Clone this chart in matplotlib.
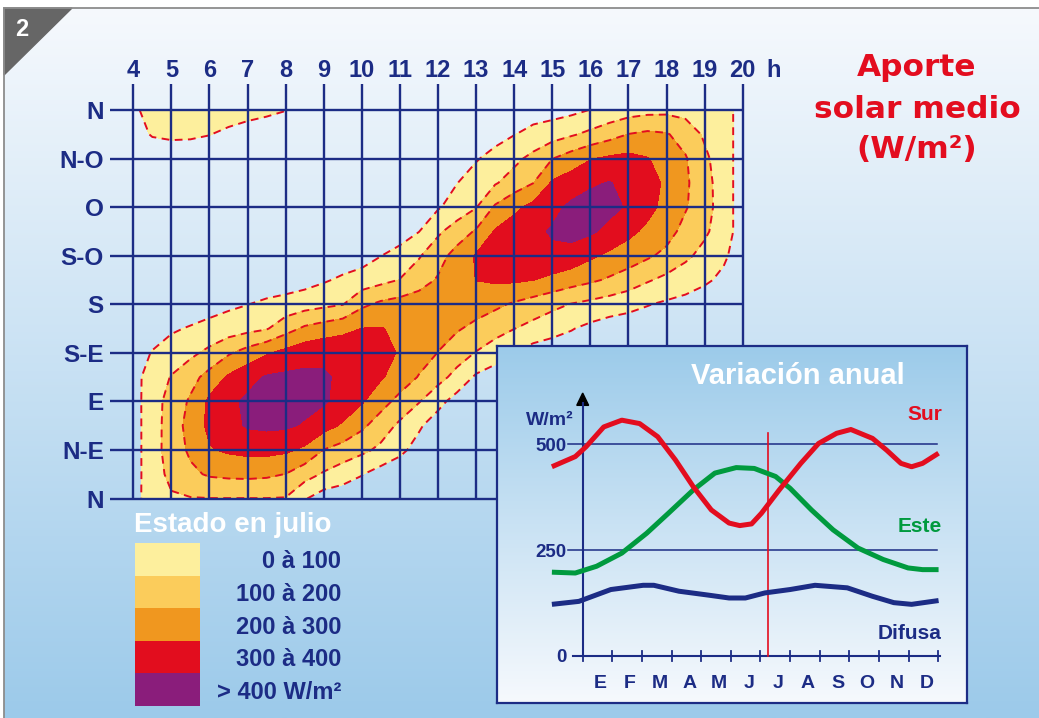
import numpy as np
import matplotlib
matplotlib.use("Agg")
import matplotlib.pyplot as plt
from matplotlib.colors import to_rgb
from matplotlib.patches import Rectangle, Polygon

W, H = 1039, 718
NAVY = "#1c2c85"
RED = "#e30d1f"
GREEN = "#009a3e"

plt.rcParams["font.family"] = ["Liberation Sans", "DejaVu Sans"]
plt.rcParams["font.weight"] = "bold"
plt.rcParams["lines.dashed_pattern"] = [4, 2.8]

# ---- Estado en julio: W/m2 por hora solar (columnas) y orientacion (filas) ----
hours = np.arange(4, 20.5, 0.5)
orient = np.arange(0, 8.5, 0.5)
hour_ticks = list(range(4, 21))
orient_labels = ["N", "N-E", "E", "S-E", "S", "S-O", "O", "N-O", "N"]

july = np.array([
    # 4    4.5   5    5.5   6    6.5   7    7.5   8    8.5   9    9.5   10   10.5  11   11.5  12   12.5  13   13.5  14   14.5  15   15.5  16   16.5  17   17.5  18   18.5  19   19.5  20
    [-50,  70,  88,  95,  98,  98,  98,  98,  95,   8, -50, -60, -60, -60, -60, -60, -60, -60, -60, -60, -60, -60, -60, -60, -60, -60, -60, -60, -60, -60, -60, -60, -60],  # N
    [-40,  54, 126, 179, 212, 222, 225, 218, 198, 141,  88,  46,   4, -40, -60, -60, -60, -60, -60, -60, -60, -60, -60, -60, -60, -60, -60, -60, -60, -60, -60, -60, -60],
    [-43,  59, 144, 218, 293, 315, 328, 330, 318, 282, 198, 160, 123,  78,  22, -35, -60, -60, -60, -60, -60, -60, -60, -60, -60, -60, -60, -60, -60, -60, -60, -60, -60],  # N-E
    [-43,  59, 143, 239, 322, 368, 410, 420, 415, 390, 340, 287, 220, 150,  80,  13, -50, -60, -60, -60, -60, -60, -60, -60, -60, -60, -60, -60, -60, -60, -60, -60, -60],
    [-41,  57, 138, 214, 322, 376, 420, 435, 440, 430, 412, 367, 311, 238, 169, 106,  31, -40, -60, -60, -60, -60, -60, -60, -60, -60, -60, -60, -60, -60, -60, -60, -60],  # E
    [-30,  39, 106, 165, 236, 315, 365, 410, 420, 420, 410, 385, 348, 311, 256, 194, 135,  67, -15, -50, -60, -60, -60, -60, -60, -60, -60, -60, -60, -60, -60, -60, -60],
    [-35,   4,  41,  78, 125, 188, 240, 290, 330, 365, 380, 375, 360, 335, 291, 245, 198, 147,  95,  48,  -2, -45, -60, -60, -60, -60, -60, -60, -60, -60, -60, -60, -60],  # S-E
    [-54, -33, -12,   8,  29,  50,  71,  92, 160, 217, 245, 272, 302, 305, 280, 256, 233, 209, 177, 138, 102,  69,  38,   6, -25, -50, -60, -60, -60, -60, -60, -60, -60],
    [-60, -60, -60, -57, -38, -19,  -2,  19,  38,  58,  77,  96, 180, 220, 240, 255, 260, 255, 240, 220, 188, 156, 125,  96,  75,  54,  33,   5, -15, -30, -50, -60, -60],  # S
    [-60, -60, -60, -60, -60, -60, -60, -60, -55, -38, -11,  17,  44,  72, 103, 156, 210, 257, 302, 315, 315, 302, 275, 244, 217, 187, 153, 110,  75,  45,  15, -20, -40],
    [-60, -60, -60, -60, -60, -60, -60, -60, -60, -60, -60, -60, -45,  -2,  45,  91, 162, 238, 310, 340, 360, 375, 380, 365, 318, 280, 251, 215, 175, 120,  68,  15, -50],  # S-O
    [-60, -60, -60, -60, -60, -60, -60, -60, -60, -60, -60, -60, -60, -60, -60,  -2,  83, 147, 211, 310, 343, 377, 410, 430, 415, 375, 325, 279, 238, 168, 118,  45, -45],
    [-60, -60, -60, -60, -60, -60, -60, -60, -60, -60, -60, -60, -60, -60, -60, -60, -10,  42,  95, 213, 280, 330, 374, 420, 440, 425, 390, 330, 270, 208, 140,  50, -50],  # O
    [-60, -60, -60, -60, -60, -60, -60, -60, -60, -60, -60, -60, -60, -60, -60, -60, -45,  -2,  45,  91, 144, 198, 314, 350, 386, 405, 371, 335, 285, 215, 140,  45, -45],
    [-50, -40, -38, -38, -45, -50, -60, -60, -60, -60, -60, -60, -60, -60, -60, -60, -60, -50,  -8,  33,  75, 129, 198, 248, 295, 318, 330, 305, 262, 208, 122,  40, -40],  # N-O
    [-25,   5,  12,  10,   2, -15, -30, -40, -50, -60, -60, -60, -60, -60, -60, -60, -60, -60, -60, -35,  -3,  27,  57,  88, 123, 162, 202, 220, 208, 160,  85,  35, -35],
    [-20,  40,  50,  50,  45,  35,  25,  15,   2, -15, -40, -40, -40, -40, -40, -40, -40, -40, -40, -40, -40, -40, -40, -25,   2,  30,  55,  70,  75,  65,  50,  30, -30],  # N
])

band_levels = [0, 100, 200, 300, 400, 1000]
band_colors = ["#fdef9d", "#fbcc5b", "#f0971f", "#e20d1e", "#8a1d7b"]
band_labels = ["0 à 100", "100 à 200", "200 à 300", "300 à 400", "> 400 W/m²"]

# ---- Variacion anual (W/m2), x en meses desde el 1 de enero ----
month_labels = ["E", "F", "M", "A", "M", "J", "J", "A", "S", "O", "N", "D"]
sur_x = [-1.04, -0.25, 0.11, 0.71, 1.32, 1.92, 2.53, 3.13, 3.73, 4.34, 4.94, 5.3, 5.7,
         6.03, 6.63, 7.36, 7.96, 8.57, 9.05, 9.78, 10.26, 10.74, 11.1, 11.47, 12.01]
sur_y = [447, 471, 494, 541, 557, 549, 518, 463, 400, 345, 314, 308, 312,
         337, 392, 455, 502, 526, 535, 514, 486, 455, 447, 455, 479]
este_x = [-1.04, -0.25, 0.47, 1.32, 2.16, 2.89, 3.73, 4.46, 5.18, 5.79, 6.51, 7.0,
          7.72, 8.45, 9.29, 10.14, 10.98, 11.47, 12.01]
este_y = [198, 196, 212, 243, 290, 337, 392, 432, 445, 443, 424, 396,
          345, 298, 255, 228, 208, 204, 204]
dif_x = [-1.04, -0.13, 0.95, 2.04, 2.4, 3.25, 4.22, 4.94, 5.49, 6.15, 7.0, 7.84,
         8.93, 9.78, 10.5, 11.1, 12.01]
dif_y = [122, 129, 157, 167, 167, 153, 144, 137, 137, 149, 157, 167,
         161, 141, 126, 122, 131]
july_mark = 6.24
y_ticks = [0, 250, 500]


def box(x0, y0, x1, y1):
    # pixel box -> figure fraction
    return [x0 / W, 1 - y1 / H, (x1 - x0) / W, (y1 - y0) / H]


def vgrad(c_top, c_bot, n=256):
    t = np.linspace(0, 1, n)[:, None, None]
    a = np.array(to_rgb(c_top))[None, None, :]
    b = np.array(to_rgb(c_bot))[None, None, :]
    return a + (b - a) * t


fig = plt.figure(figsize=(W / 100, H / 100), dpi=100, facecolor="white")

# background
ax_bg = fig.add_axes([0, 0, 1, 1], zorder=0)
ax_bg.set_xlim(0, W)
ax_bg.set_ylim(H, 0)
ax_bg.axis("off")
ax_bg.imshow(vgrad("#f6f9fd", "#9ccaea"), extent=(4, W, H, 8), aspect="auto")

# main contour chart
ax = fig.add_axes(box(133.3, 110, 742.7, 498.5), zorder=1)
ax.patch.set_visible(False)
ax.axis("off")
ax.contourf(hours, orient, july, levels=band_levels, colors=band_colors)
ax.contour(hours, orient, july, levels=band_levels[:3], colors=RED,
           linewidths=1.4, linestyles="dashed")
ax.set_xlim(4, 20)
ax.set_ylim(0, 8)

for h in hour_ticks:
    ax.plot([h, h], [0, 8.54], color=NAVY, lw=1.7, clip_on=False, zorder=3,
            solid_capstyle="butt")
    ax.text(h, 8.86, str(h), ha="center", va="center_baseline", fontsize=17,
            color=NAVY, clip_on=False)
ax.text(20.8, 8.86, "h", ha="center", va="center_baseline", fontsize=17,
        color=NAVY, clip_on=False)
for d, lab in enumerate(orient_labels):
    ax.plot([3.39, 20], [d, d], color=NAVY, lw=1.7, clip_on=False, zorder=3,
            solid_capstyle="butt")
    ax.text(3.23, d, lab, ha="right", va="center_baseline", fontsize=17.5,
            color=NAVY, clip_on=False)

# inset frame
ax_box = fig.add_axes(box(497, 346, 967, 703), zorder=2)
ax_box.imshow(vgrad("#9ccbea", "#f6f9fd"), extent=(0, 1, 0, 1), aspect="auto")
ax_box.set_xticks([])
ax_box.set_yticks([])
for s in ax_box.spines.values():
    s.set_color(NAVY)
    s.set_linewidth(1.6)

# annual variation chart (x: 0 -> px 582.7, 12 -> px 938.3)
ax2 = fig.add_axes(box(542.7, 393.5, 944.2, 662.35), zorder=3)
ax2.patch.set_visible(False)
ax2.axis("off")
ax2.set_xlim(-1.35, 12.2)
ax2.set_ylim(-15, 620)
for yv in y_ticks[1:]:
    ax2.plot([-0.5, 11.95], [yv, yv], color=NAVY, lw=1.1, clip_on=False)
for yv in y_ticks:
    ax2.text(-0.53, yv, str(yv), ha="right", va="center_baseline", fontsize=13.5,
             color=NAVY, clip_on=False)
ax2.plot([-0.32, 12.06], [0, 0], color=NAVY, lw=1.5, clip_on=False)
for m in range(13):
    ax2.plot([m, m], [-12, 12], color=NAVY, lw=1.3, clip_on=False)
for m, lab in enumerate(month_labels):
    ax2.text(m + 0.6, -61, lab, ha="center", va="center_baseline", fontsize=14,
             color=NAVY, clip_on=False)
ax2.plot([0, 0], [0, 598], color=NAVY, lw=1.5, clip_on=False)
ax2.add_patch(Polygon([(-0.2, 592), (0.2, 592), (0, 621)], closed=True,
                      color="black", clip_on=False))
ax2.text(-1.12, 562, "W/m²", ha="center", va="center_baseline", fontsize=14,
         color=NAVY, clip_on=False)
ax2.plot([july_mark, july_mark], [0, 526], color=RED, lw=1.2, clip_on=False)
ax2.plot(dif_x, dif_y, color=NAVY, lw=3.6, solid_capstyle="butt",
         solid_joinstyle="round", clip_on=False)
ax2.plot(este_x, este_y, color=GREEN, lw=3.6, solid_capstyle="butt",
         solid_joinstyle="round", clip_on=False)
ax2.plot(sur_x, sur_y, color=RED, lw=3.6, solid_capstyle="butt",
         solid_joinstyle="round", clip_on=False)
ax2.text(12.12, 576, "Sur", ha="right", va="center_baseline", fontsize=15,
         color=RED, clip_on=False)
ax2.text(12.12, 310, "Este", ha="right", va="center_baseline", fontsize=15,
         color=GREEN, clip_on=False)
ax2.text(12.12, 58, "Difusa", ha="right", va="center_baseline", fontsize=15,
         color=NAVY, clip_on=False)

# overlay: frame, corner number, titles, legend
ov = fig.add_axes([0, 0, 1, 1], zorder=4)
ov.patch.set_visible(False)
ov.set_xlim(0, W)
ov.set_ylim(H, 0)
ov.axis("off")
ov.plot([4, W], [8, 8], color="#8c8c8c", lw=1.3)
ov.plot([4, 4], [8, H], color="#8c8c8c", lw=1.3)
ov.add_patch(Polygon([(4, 8), (72, 8), (4, 75)], closed=True, color="#666666"))
ov.text(22, 27, "2", ha="center", va="center_baseline", fontsize=17, color="white")

for i, line in enumerate(["Aporte", "solar medio", "(W/m²)"]):
    ov.text(917, 65 + i * 41, line, ha="center", va="center_baseline",
            fontsize=22.5, color=RED, family="DejaVu Sans", fontweight="bold")

ov.text(798, 373, "Variación anual", ha="center", va="center_baseline",
        fontsize=21, color="white")

ov.text(134, 522, "Estado en julio", ha="left", va="center_baseline",
        fontsize=20, color="white")
for i, (lab, col) in enumerate(zip(band_labels, band_colors)):
    ov.add_patch(Rectangle((135, 543 + i * 32.6), 65, 32.6, color=col, lw=0))
    ov.text(341, 559.5 + i * 32.6, lab, ha="right", va="center_baseline",
            fontsize=17, color=NAVY)

fig.savefig("out.png", dpi=100)
